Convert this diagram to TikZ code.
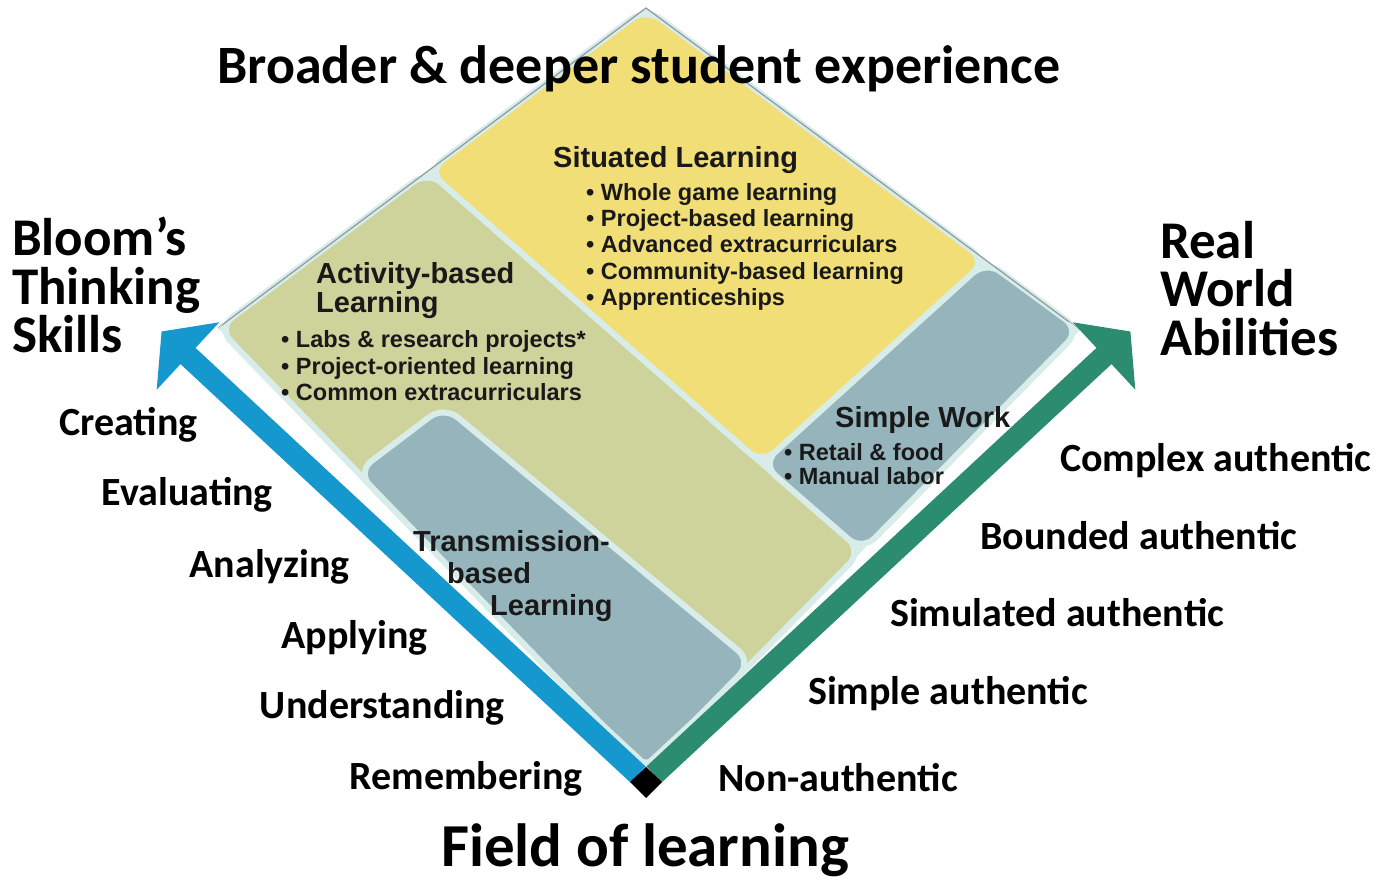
\documentclass[tikz,border=0pt]{standalone}
\usepackage{fontspec}
\setmainfont{Carlito}
\newfontfamily\arialf{Liberation Sans}
\definecolor{pale}{RGB}{216,236,234}
\definecolor{yel}{RGB}{242,222,118}
\definecolor{oli}{RGB}{206,211,155}
\definecolor{slate}{RGB}{149,180,187}
\definecolor{bluec}{RGB}{20,152,206}
\definecolor{greenc}{RGB}{44,140,112}
\definecolor{outl}{RGB}{140,155,160}
\definecolor{txt}{RGB}{25,25,25}
\begin{document}
\begin{tikzpicture}[x=1pt,y=-1pt,
  box/.style={rounded corners=18pt, draw=pale, line width=6pt, line join=round},
  lvl/.style={font=\bfseries\fontsize{40}{40}\selectfont, inner sep=0pt},
  big/.style={font=\bfseries\fontsize{53}{53}\selectfont, inner sep=0pt, anchor=base west},
  bhead/.style={font=\arialf\bfseries\fontsize{29}{29}\selectfont, inner sep=0pt, anchor=base west, text=txt},
  bitem/.style={font=\arialf\bfseries\fontsize{23.5}{23.5}\selectfont, inner sep=0pt, anchor=base west, text=txt},
]
\useasboundingbox (0,0) rectangle (1392,882);
\fill[white] (0,0) rectangle (1392,882);
% key points
\coordinate (OT) at (646,8);
\coordinate (OL) at (218,328);
\coordinate (OB) at (646,770);
\coordinate (OR) at (1080,330);
\coordinate (Q) at (428,171);
\coordinate (P) at (862,551);
\coordinate (R) at (762,464);
\coordinate (S) at (986,261);
\coordinate (T) at (444,406);
\coordinate (TL) at (357,472);
\coordinate (TR) at (752,662);
% arrow points
\coordinate (bi0) at (645.5,766.4); \coordinate (bi1) at (195.5,347.9);
\coordinate (bA) at (219.3,322.3); \coordinate (btip) at (161.6,331.5);
\coordinate (bB) at (156.7,389.7); \coordinate (bo1) at (180.5,364.1);
\coordinate (bo0) at (630.5,782.6);
\coordinate (gi0) at (646.5,766.4); \coordinate (gi1) at (1096.5,347.9);
\coordinate (gA) at (1072.7,322.3); \coordinate (gtip) at (1130.4,331.5);
\coordinate (gB) at (1135.3,389.7); \coordinate (go1) at (1111.5,364.1);
\coordinate (go0) at (661.5,782.6);

% background diamond
\fill[pale] (OT) -- (OL) -- (OB) -- (OR) -- cycle;
% regions
\path[box, fill=oli] (Q) -- (OL) -- (OB) -- (P) -- cycle;
\path[box, fill=yel] (OT) -- (Q) -- (R) -- (S) -- cycle;
\path[box, fill=slate] (S) -- (R) -- (P) -- (OR) -- cycle;
\path[box, fill=slate] (T) -- (TL) -- (OB) -- (TR) -- cycle;
\draw[outl, line width=1.2pt] (OL) -- (OT) -- (OR);
% halos
\begin{scope}
\clip (OT) -- (OL) -- (OB) -- (OR) -- cycle;
\draw[pale, line width=8pt, line join=round] (bi0) -- (bi1) -- (bA) -- (btip) -- (bB) -- (bo1) -- (bo0) -- cycle;
\draw[pale, line width=8pt, line join=round] (gi0) -- (gi1) -- (gA) -- (gtip) -- (gB) -- (go1) -- (go0) -- cycle;
\end{scope}
% arrows
\fill[bluec] (bi0) -- (bi1) -- (bA) -- (btip) -- (bB) -- (bo1) -- (bo0) -- cycle;
\fill[greenc] (gi0) -- (gi1) -- (gA) -- (gtip) -- (gB) -- (go1) -- (go0) -- cycle;
\fill[black] (646,767) -- (662,782) -- (646,798) -- (630,782) -- cycle;

% titles
\node[big, anchor=base, font=\bfseries\fontsize{54}{54}\selectfont] (title) at (639,84) {Broader \& deeper student experience};
\node[big, anchor=base, font=\bfseries\fontsize{61}{61}\selectfont] (field) at (645,866) {Field of learning};
\node[big] (bl1) at (12,256) {Bloom’s};
\node[big] (bl2) at (12,305) {Thinking};
\node[big] (bl3) at (12,353) {Skills};
\node[big] (rw1) at (1160,259) {Real};
\node[big] (rw2) at (1160,307) {World};
\node[big] (rw3) at (1160,356) {Abilities};

% Bloom levels
\node[lvl, anchor=base east] (l6) at (198,435) {Creating};
\node[lvl, anchor=base east] (l5) at (273,505) {Evaluating};
\node[lvl, anchor=base east] (l4) at (350,577) {Analyzing};
\node[lvl, anchor=base east] (l3) at (428,648) {Applying};
\node[lvl, anchor=base east] (l2) at (505,718) {Understanding};
\node[lvl, anchor=base east] (l1) at (583,789) {Remembering};
% authenticity levels
\node[lvl, anchor=base west] (a5) at (1060,471) {Complex authentic};
\node[lvl, anchor=base west] (a4) at (980,549) {Bounded authentic};
\node[lvl, anchor=base west] (a3) at (890,626) {Simulated authentic};
\node[lvl, anchor=base west] (a2) at (808,704) {Simple authentic};
\node[lvl, anchor=base west] (a1) at (718,791) {Non-authentic};

% Situated learning
\node[bhead] (sl) at (553,168) {Situated Learning};
\node[bitem] (sl1) at (586,201) {• Whole game learning};
\node[bitem] (sl2) at (586,227) {• Project-based learning};
\node[bitem] (sl3) at (586,253) {• Advanced extracurriculars};
\node[bitem] (sl4) at (586,280) {• Community-based learning};
\node[bitem] (sl5) at (586,306) {• Apprenticeships};
% Activity-based
\node[bhead] (ab1) at (316,284) {Activity-based};
\node[bhead] (ab2) at (316,313) {Learning};
\node[bitem] (ab3) at (281,348) {• Labs \& research projects*};
\node[bitem] (ab4) at (281,374) {• Project-oriented learning};
\node[bitem] (ab5) at (281,400) {• Common extracurriculars};
% Transmission
\node[bhead] (tb1) at (413,551) {Transmission-};
\node[bhead] (tb2) at (447,583) {based};
\node[bhead] (tb3) at (490,615) {Learning};
% Simple work
\node[bhead] (sw) at (835,428) {Simple Work};
\node[bitem] (sw1) at (784,460) {• Retail \& food};
\node[bitem] (sw2) at (784,484) {• Manual labor};
\end{tikzpicture}
\end{document}
